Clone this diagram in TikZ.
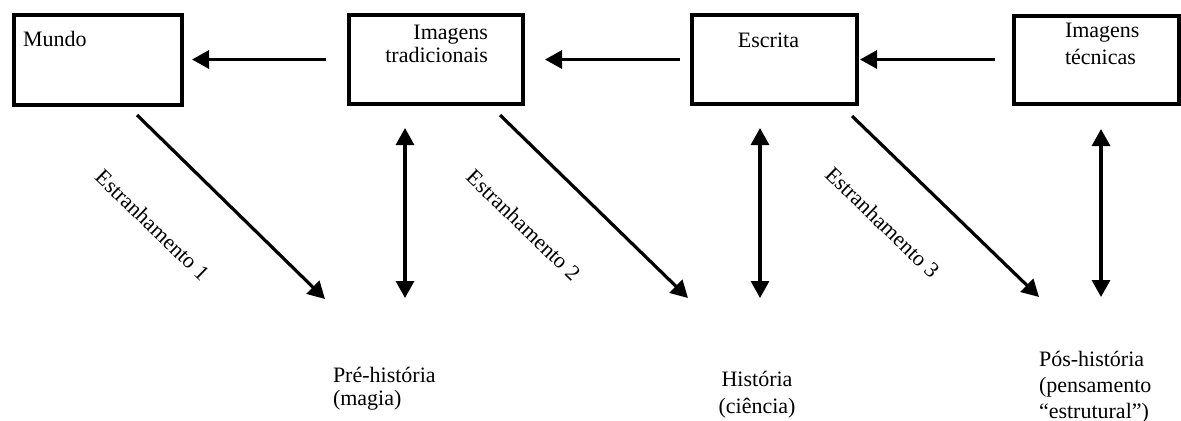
\documentclass[tikz,border=0pt]{standalone}
\usepackage{fontspec}
\setmainfont{Liberation Serif}
\usetikzlibrary{positioning, arrows.meta}

\begin{document}
\begin{tikzpicture}[
    x=0.5pt, y=-0.5pt, % one unit = one pixel of the sketch
    font=\fontsize{11}{13}\selectfont,
    stage/.style={rectangle, draw, line width=2pt, inner sep=0pt, outer sep=0pt},
    txt/.style={inner sep=0pt, outer sep=0pt},
    flow/.style={line width=1.6pt},
    >={Triangle[length=8.5pt, width=9pt]}]

  \useasboundingbox (0,0) rectangle (1181,420);

  % Place the four boxes
  \node (mundo) [stage, minimum width=84pt, minimum height=45pt] at (97.5,59.5) {};
  \node (imgtrad) [stage, minimum width=87pt, minimum height=44.5pt, right=83.5pt of mundo] {};
  \node (escrita) [stage, minimum width=82.5pt, minimum height=44.5pt, right=84.5pt of imgtrad] {};
  \node (imgtec) [stage, minimum width=82.5pt, minimum height=44pt, right=78.5pt of escrita] {};

  % Texts inside the boxes
  \node (mundotxt) [txt, below right=8.25pt and 4.75pt of mundo.north west] {Mundo};
  \node (imgtradtxt) [txt, align=right, font=\fontsize{11}{11.5}\selectfont,
    below left=5.25pt and 17.25pt of imgtrad.north east] {Imagens\\tradicionais};
  \node (escritatxt) [txt, below=9.2pt of escrita.north, xshift=-2.75pt] {Escrita};
  \node (imgtectxt) [txt, align=left, font=\fontsize{11}{13.5}\selectfont,
    below right=3.9pt and 25.75pt of imgtec.north west] {Imagens\\técnicas};

  % Texts at the bottom
  \node (prehist) [txt, align=left, font=\fontsize{11}{11.5}\selectfont, anchor=north west]
    at (333,367) {Pré-história\\(magia)};
  \node (hist) [txt, align=center, font=\fontsize{11}{13.5}\selectfont, anchor=north]
    at (757,371) {História\\(ciência)};
  \node (poshist) [txt, align=left, font=\fontsize{11}{13}\selectfont, anchor=north west]
    at (1039,351) {Pós-história\\(pensamento\\“estrutural”)};

  % Slanted labels
  \node (est1) [txt, rotate=-44] at (152.5,225) {Estranhamento 1};
  \node (est2) [txt, rotate=-44] at (523.5,225) {Estranhamento 2};
  \node (est3) [txt, rotate=-44] at (882.5,222.5) {Estranhamento 3};

  % Free ends of the lower arrows
  \coordinate (d1s) at (137,115);  \coordinate (d1e) at (325,299);
  \coordinate (d2s) at (500,115);  \coordinate (d2e) at (688,298);
  \coordinate (d3s) at (852,116);  \coordinate (d3e) at (1039,297);
  \coordinate (v1t) at (405,128);  \coordinate (v1b) at (405,298);
  \coordinate (v2t) at (760,128);  \coordinate (v2b) at (760,298);
  \coordinate (v3t) at (1101,129); \coordinate (v3b) at (1101,297);

  % Arrows between the boxes (backwards in time)
  \draw [flow, ->, shorten <=11.25pt, shorten >=5.25pt] (imgtrad.west) -- (mundo.east);
  \draw [flow, ->, shorten <=5.75pt, shorten >=11.25pt] (escrita.west) -- (imgtrad.east);
  \draw [flow, ->, shorten <=9.25pt, shorten >=1.75pt] (imgtec.west) -- (escrita.east);

  % Estrangement arrows
  \draw [flow, ->] (d1s) -- (d1e);
  \draw [flow, ->] (d2s) -- (d2e);
  \draw [flow, ->] (d3s) -- (d3e);

  % Double arrows
  \draw [flow, <->] (v1t) -- (v1b);
  \draw [flow, <->] (v2t) -- (v2b);
  \draw [flow, <->] (v3t) -- (v3b);
\end{tikzpicture}
\end{document}
